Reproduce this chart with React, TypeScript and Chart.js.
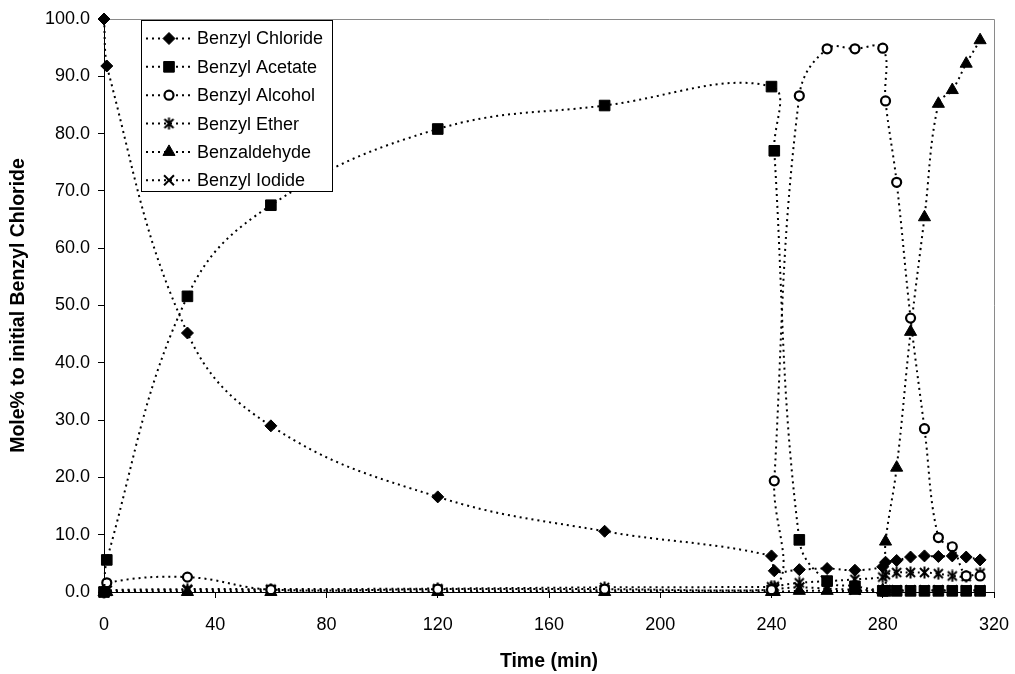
import React, { useEffect, useRef } from 'react';
import { Chart, registerables } from 'chart.js';

Chart.register(...registerables);

// ---- data ----
const times = [0, 1, 30, 60, 120, 180, 240, 241, 250, 260, 270, 280, 281, 285, 290, 295, 300, 305, 310, 315];
const benzylChloride = [100, 91.8, 45.2, 29.0, 16.6, 10.6, 6.3, 3.7, 3.9, 4.1, 3.8, 4.4, 5.2, 5.5, 6.1, 6.3, 6.2, 6.3, 6.1, 5.6];
const benzylAcetate = [0, 5.6, 51.6, 67.5, 80.8, 84.9, 88.2, 77.0, 9.1, 1.9, 1.0, 0.2, 0.2, 0.2, 0.2, 0.2, 0.2, 0.2, 0.2, 0.2];
const benzylAlcohol = [0, 1.6, 2.6, 0.4, 0.5, 0.5, 0.4, 19.4, 86.6, 94.8, 94.8, 94.9, 85.7, 71.5, 47.8, 28.5, 9.5, 7.9, 2.8, 2.8];
const benzylEther = [0, 0.3, 0.5, 0.5, 0.6, 0.8, 0.9, 1.0, 1.6, 1.9, 2.2, 2.6, 3.0, 3.4, 3.4, 3.4, 3.2, 2.8, 2.7, 3.3];
const benzaldehyde = [0, 0, 0, 0, 0, 0, 0, 0, 0.2, 0.2, 0.2, 0.3, 8.8, 21.7, 45.4, 65.4, 85.2, 87.6, 92.2, 96.3];
const benzylIodide = [0, 0.2, 0.3, 0.3, 0.3, 0.3, 0.3, 0.5, 0.8, 0.6, 0.4, 0.3, 0.3, 0.3, 0.3, 0.3, 0.3, 0.3, 0.3, 0.3];

const seriesNames = ['Benzyl Chloride', 'Benzyl Acetate', 'Benzyl Alcohol', 'Benzyl Ether', 'Benzaldehyde', 'Benzyl Iodide'];
const xTickValues = [0, 40, 80, 120, 160, 200, 240, 280, 320];
const yTickValues = [0, 10, 20, 30, 40, 50, 60, 70, 80, 90, 100];

const xTitle = 'Time (min)';
const yTitle = 'Mole% to initial Benzyl Chloride';

const FONT = "'Liberation Sans', Arial, Helvetica, sans-serif";

function makeAsterisk(): HTMLCanvasElement {
  const c = document.createElement('canvas');
  c.width = 13;
  c.height = 13;
  const g = c.getContext('2d') as CanvasRenderingContext2D;
  g.strokeStyle = '#000';
  g.lineWidth = 2;
  g.beginPath();
  g.moveTo(2, 2); g.lineTo(11, 11);
  g.moveTo(11, 2); g.lineTo(2, 11);
  g.moveTo(6.5, 0.5); g.lineTo(6.5, 12.5);
  g.stroke();
  return c;
}

function drawMarker(ctx: CanvasRenderingContext2D, ds: any, x: number, y: number) {
  const style = ds.pointStyle;
  const r = ds.pointRadius;
  ctx.save();
  ctx.lineWidth = ds.pointBorderWidth;
  ctx.strokeStyle = ds.pointBorderColor;
  ctx.fillStyle = ds.pointBackgroundColor;
  ctx.setLineDash([]);
  if (typeof style !== 'string') {
    ctx.drawImage(style, x - style.width / 2, y - style.height / 2);
    ctx.restore();
    return;
  }
  ctx.beginPath();
  if (style === 'rectRot') {
    ctx.moveTo(x - r, y); ctx.lineTo(x, y - r); ctx.lineTo(x + r, y); ctx.lineTo(x, y + r); ctx.closePath();
    ctx.fill(); ctx.stroke();
  } else if (style === 'rect') {
    const s = Math.SQRT1_2 * r;
    ctx.rect(x - s, y - s, 2 * s, 2 * s);
    ctx.fill(); ctx.stroke();
  } else if (style === 'circle') {
    ctx.arc(x, y, r, 0, Math.PI * 2);
    ctx.fill(); ctx.stroke();
  } else if (style === 'triangle') {
    let a = 0;
    ctx.moveTo(x + Math.sin(a) * r, y - Math.cos(a) * r);
    a += (2 * Math.PI) / 3;
    ctx.lineTo(x + Math.sin(a) * r, y - Math.cos(a) * r);
    a += (2 * Math.PI) / 3;
    ctx.lineTo(x + Math.sin(a) * r, y - Math.cos(a) * r);
    ctx.closePath();
    ctx.fill(); ctx.stroke();
  } else if (style === 'crossRot') {
    const o = Math.SQRT1_2 * r;
    ctx.moveTo(x - o, y - o); ctx.lineTo(x + o, y + o);
    ctx.moveTo(x + o, y - o); ctx.lineTo(x - o, y + o);
    ctx.stroke();
  }
  ctx.restore();
}

const frameAndLegend = {
  id: 'frameAndLegend',
  beforeDatasetsDraw(chart: any) {
    const { ctx, chartArea } = chart;
    ctx.save();
    ctx.strokeStyle = '#8a8a8a';
    ctx.lineWidth = 1;
    ctx.beginPath();
    ctx.moveTo(chartArea.left, chartArea.top + 0.5);
    ctx.lineTo(chartArea.right + 0.5, chartArea.top + 0.5);
    ctx.lineTo(chartArea.right + 0.5, chartArea.bottom);
    ctx.stroke();
    ctx.restore();
  },
  afterDatasetsDraw(chart: any) {
    const { ctx } = chart;
    const bx = 141.5, by = 20.5, bw = 191, bh = 171;
    ctx.save();
    ctx.fillStyle = '#ffffff';
    ctx.fillRect(bx, by, bw, bh);
    ctx.strokeStyle = '#000';
    ctx.lineWidth = 1;
    ctx.strokeRect(bx, by, bw, bh);
    ctx.font = `18px ${FONT}`;
    ctx.textBaseline = 'middle';
    ctx.textAlign = 'left';
    chart.data.datasets.forEach((ds: any, i: number) => {
      const y = 38.5 + i * 28.35;
      ctx.save();
      ctx.strokeStyle = '#000';
      ctx.lineWidth = 2;
      ctx.setLineDash([2, 4]);
      ctx.beginPath();
      ctx.moveTo(146, y);
      ctx.lineTo(192, y);
      ctx.stroke();
      ctx.restore();
      drawMarker(ctx, ds, 169, y);
      ctx.fillStyle = '#000';
      ctx.fillText(ds.label, 197, y + 1);
    });
    ctx.restore();
  },
};

export default function App() {
  const ref = useRef<HTMLCanvasElement | null>(null);

  useEffect(() => {
    if (!ref.current) return;
    const asterisk = makeAsterisk();
    const base = {
      borderColor: '#000',
      borderWidth: 2,
      borderDash: [2, 4],
      borderCapStyle: 'butt',
      tension: 0.4,
      fill: false,
      clip: false,
      pointBorderColor: '#000',
      pointBackgroundColor: '#000',
      pointBorderWidth: 1,
    };
    const toPts = (arr: number[]) => times.map((t, i) => ({ x: t, y: arr[i] }));
    const datasets: any[] = [
      { ...base, label: seriesNames[0], data: toPts(benzylChloride), pointStyle: 'rectRot', pointRadius: 6 },
      { ...base, label: seriesNames[1], data: toPts(benzylAcetate), pointStyle: 'rect', pointRadius: 7.5 },
      { ...base, label: seriesNames[2], data: toPts(benzylAlcohol), pointStyle: 'circle', pointRadius: 4.5, pointBackgroundColor: '#fff', pointBorderWidth: 2.2 },
      { ...base, label: seriesNames[3], data: toPts(benzylEther), pointStyle: asterisk, pointRadius: 6 },
      { ...base, label: seriesNames[4], data: toPts(benzaldehyde), pointStyle: 'triangle', pointRadius: 7 },
      { ...base, label: seriesNames[5], data: toPts(benzylIodide), pointStyle: 'crossRot', pointRadius: 7, pointBorderWidth: 2 },
    ];

    const chart = new Chart(ref.current, {
      type: 'line',
      data: { datasets },
      plugins: [frameAndLegend],
      options: {
        animation: false,
        responsive: false,
        devicePixelRatio: 1,
        layout: { padding: { left: 0, top: 19, right: 21, bottom: 0 } },
        plugins: { legend: { display: false }, tooltip: { enabled: false } },
        scales: {
          x: {
            type: 'linear',
            min: 0,
            max: 320,
            afterFit: (s: any) => { s.height = 82; s.paddingLeft = 0; s.paddingRight = 0; },
            afterBuildTicks: (s: any) => { s.ticks = xTickValues.map((v) => ({ value: v })); },
            grid: { drawOnChartArea: false, drawTicks: true, tickLength: 6, color: '#000' },
            border: { display: true, color: '#000', width: 1 },
            ticks: { color: '#000', font: { family: FONT, size: 18 }, padding: 16, maxRotation: 0, autoSkip: false, callback: (v: any) => String(v) },
            title: { display: true, text: xTitle, color: '#000', font: { family: FONT, size: 19.5, weight: 'bold' }, padding: { top: 0, bottom: 1 } },
          },
          y: {
            type: 'linear',
            min: 0,
            max: 100,
            afterFit: (s: any) => { s.width = 104; s.paddingTop = 0; s.paddingBottom = 0; },
            afterBuildTicks: (s: any) => { s.ticks = yTickValues.map((v) => ({ value: v })); },
            grid: { drawOnChartArea: false, drawTicks: true, tickLength: 6, color: '#000' },
            border: { display: true, color: '#000', width: 1 },
            ticks: { color: '#000', font: { family: FONT, size: 18 }, padding: 8, autoSkip: false, callback: (v: any) => Number(v).toFixed(1) },
            title: { display: true, text: yTitle, color: '#000', font: { family: FONT, size: 19.5, weight: 'bold' }, padding: { top: 7, bottom: 0 } },
          },
        },
      } as any,
    });
    return () => chart.destroy();
  }, []);

  return (
    <div style={{ position: 'fixed', left: 0, top: 0, width: 1015, height: 674, background: '#fff' }}>
      <canvas ref={ref} width={1015} height={674} style={{ display: 'block' }} />
    </div>
  );
}
